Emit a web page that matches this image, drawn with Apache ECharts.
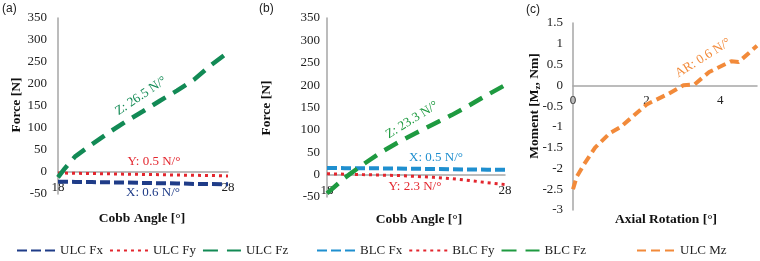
<!DOCTYPE html>
<html>
<head>
<meta charset="utf-8">
<script src="https://cdn.jsdelivr.net/npm/echarts@6/dist/echarts.min.js"></script>
<style>
  html, body { margin: 0; padding: 0; background: #fff; }
  #main { width: 760px; height: 261px; }
</style>
</head>
<body>
<div id="main"></div>
<script>
// (a) ULC forces vs Cobb angle
const cobbZ = [18, 18.4, 19, 20, 21, 22, 23, 24, 25, 26, 27, 28];
const ulcFz = [-12, 8, 35, 63, 90, 115, 138, 162, 185, 210, 243, 272];
const cobb = [18, 19, 20, 21, 22, 23, 24, 25, 26, 27, 28];
const ulcFx = [-22, -22.5, -23, -23.5, -24, -25, -25.5, -26, -27, -27.5, -28];
const ulcFy = [-2, -3, -3.5, -4, -5, -5.5, -6, -7, -7.5, -8, -9];

// (b) BLC forces vs Cobb angle
const blcFx = [15, 14.5, 14, 14, 13.5, 13, 12.5, 12, 11.5, 11, 11];
const blcFy = [2, 1, 0, -1, -2, -4, -6, -9, -13, -18, -22];
const blcFz = [-42, -7, 22, 49, 72, 93, 113, 133, 155, 178, 200];

// (c) ULC moment vs axial rotation
const axialRot = [0, 0.1, 0.3, 0.6, 1.0, 1.3, 2.0, 2.6, 3.0, 3.3, 3.7, 4.3, 4.5, 5.0];
const ulcMz = [-2.5, -2.2, -1.9, -1.5, -1.15, -1.0, -0.46, -0.2, 0.0, 0.02, 0.32, 0.58, 0.56, 0.95];

const pairs = (xs, ys) => xs.map((x, i) => [x, ys[i]]);

const SERIF = 'Liberation Serif';
const C = {
  navy: '#1f3c88',
  red: '#e3262e',
  teal: '#128a55',
  blue: '#1f8fcf',
  green: '#1e9a40',
  orange: '#f28a3a'
};

const grids = [
  { left: 58, top: 18, width: 170, height: 176 },
  { left: 327, top: 18, width: 178, height: 179 },
  { left: 573, top: 23, width: 184, height: 187 }
];
const yRanges = [[-50, 350, 50], [-50, 350, 50], [-3, 1.5, 0.5]];

const axisGray = '#a6a6a6';
const labelStyle = { fontFamily: SERIF, fontSize: 13, color: '#222' };

function yAxisOpt(g, margin) {
  const r = yRanges[g];
  return {
    type: 'value', gridIndex: g, min: r[0], max: r[1], interval: r[2],
    axisLine: { show: true, lineStyle: { color: axisGray, width: 1.5 } },
    axisTick: { show: false },
    splitLine: { show: false },
    axisLabel: Object.assign({ margin: margin }, labelStyle)
  };
}
// x axis sits on y = 0, labels just under it
function xAxisOpt(g, min, max, interval) {
  const r = yRanges[g];
  const shift = grids[g].height * (0 - r[0]) / (r[1] - r[0]);
  return {
    type: 'value', gridIndex: g, min: min, max: max, interval: interval,
    offset: -shift,
    axisLine: { show: true, onZero: false, lineStyle: { color: axisGray, width: 1.5 } },
    axisTick: { show: false },
    splitLine: { show: false },
    axisLabel: Object.assign({ margin: 9, showMaxLabel: g !== 2 }, labelStyle)
  };
}
function line(name, idx, data, color, width, dash) {
  return {
    name: name, type: 'line', xAxisIndex: idx, yAxisIndex: idx,
    data: data, symbol: 'none', color: color,
    lineStyle: { color: color, width: width, type: dash, cap: 'butt' }
  };
}
function note(text, x, y, color, deg) {
  return {
    type: 'text', x: x, y: y, rotation: (deg || 0) * Math.PI / 180,
    style: { text: text, fill: color, font: '13px "' + SERIF + '"', align: 'center', verticalAlign: 'middle' }
  };
}
function axisName(text, x, y, vertical) {
  return {
    type: 'text', x: x, y: y, rotation: vertical ? Math.PI / 2 : 0,
    style: { text: text, fill: '#111', font: 'bold 13.5px "' + SERIF + '"', align: 'center', verticalAlign: 'middle' }
  };
}
function panelTag(text, x, y) {
  return {
    type: 'text', x: x, y: y,
    style: { text: text, fill: '#222', font: '12px "Liberation Sans"' }
  };
}
const legendBase = {
  top: 244, padding: 0, itemWidth: 38, itemHeight: 14, itemGap: 6,
  itemStyle: { color: 'rgba(0,0,0,0)', borderWidth: 0, opacity: 0 },
  textStyle: { fontFamily: SERIF, fontSize: 13, color: '#222' }
};

const chart = echarts.init(document.getElementById('main'));
chart.setOption({
  animation: false,
  backgroundColor: '#fff',
  grid: grids,
  xAxis: [xAxisOpt(0, 18, 28, 10), xAxisOpt(1, 18, 28, 10), xAxisOpt(2, 0, 5, 2)],
  yAxis: [yAxisOpt(0, 11), yAxisOpt(1, 7), yAxisOpt(2, 10)],
  legend: [
    Object.assign({ left: 16, data: ['ULC Fx', 'ULC Fy', 'ULC Fz'] }, legendBase),
    Object.assign({ left: 316, data: ['BLC Fx', 'BLC Fy', 'BLC Fz'] }, legendBase),
    Object.assign({ left: 636, data: ['ULC Mz'] }, legendBase)
  ],
  series: [
    line('ULC Fx', 0, pairs(cobb, ulcFx), C.navy, 4, [10, 4]),
    line('ULC Fy', 0, pairs(cobb, ulcFy), C.red, 3, [3, 4]),
    line('ULC Fz', 0, pairs(cobbZ, ulcFz), C.teal, 4.5, [15, 9]),
    line('BLC Fx', 1, pairs(cobb, blcFx), C.blue, 4, [10, 4]),
    line('BLC Fy', 1, pairs(cobb, blcFy), C.red, 3, [3, 4]),
    line('BLC Fz', 1, pairs(cobb, blcFz), C.green, 4.5, [15, 9]),
    line('ULC Mz', 2, pairs(axialRot, ulcMz), C.orange, 4, [9, 5])
  ],
  graphic: [
    panelTag('(a)', 2, 3),
    panelTag('(b)', 259, 3),
    panelTag('(c)', 526, 4),
    axisName('Force [N]', 17, 105, true),
    axisName('Force [N]', 267, 108, true),
    {
      type: 'text', x: 535, y: 106, rotation: Math.PI / 2,
      style: {
        text: '{a|Moment [M}{s|z}{a|, Nm]}', align: 'center', verticalAlign: 'middle',
        rich: {
          a: { fontFamily: SERIF, fontWeight: 'bold', fontSize: 13.5, fill: '#111' },
          s: { fontFamily: SERIF, fontWeight: 'bold', fontSize: 9, fill: '#111', verticalAlign: 'bottom', padding: [6, 0, 0, 0] }
        }
      }
    },
    axisName('Cobb Angle [°]', 142, 219),
    axisName('Cobb Angle [°]', 419, 220),
    axisName('Axial Rotation [°]', 666, 220),
    note('Z: 26.5 N/°', 141, 96, C.teal, 34),
    note('Y: 0.5 N/°', 154, 162, C.red),
    note('X: 0.6 N/°', 153, 193, C.navy),
    note('Z: 23.3 N/°', 412, 120, C.green, 32),
    note('X: 0.5 N/°', 436, 158, C.blue),
    note('Y: 2.3 N/°', 415, 187, C.red),
    note('AR: 0.6 N/°', 703, 58, C.orange, 32)
  ]
});
</script>
</body>
</html>
